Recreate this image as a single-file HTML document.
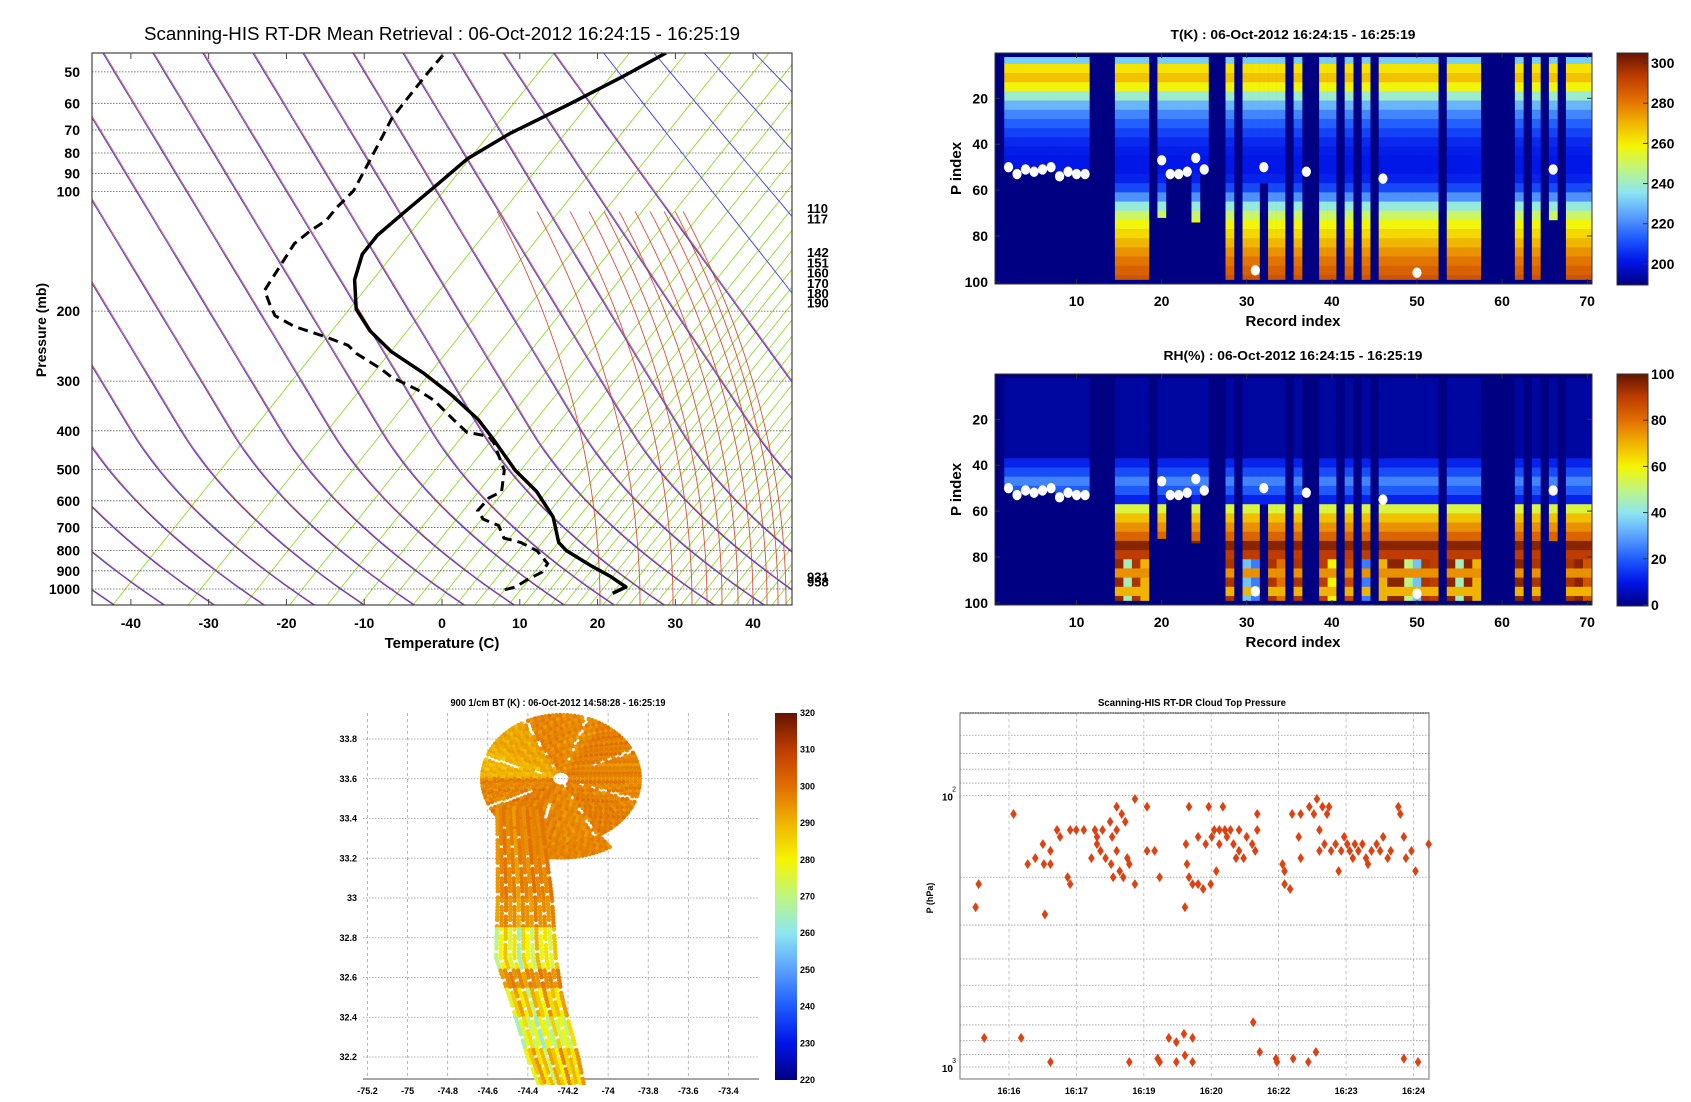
<!DOCTYPE html>
<html><head><meta charset="utf-8"><style>
html,body{margin:0;padding:0;background:#fff;}
svg{display:block;font-family:"Liberation Sans",Arial,sans-serif;}
</style></head><body>
<svg id="fig" xmlns="http://www.w3.org/2000/svg" width="1691" height="1102" viewBox="0 0 1691 1102">
<rect x="0" y="0" width="1691" height="1102" fill="#fff"/>
<defs>
<clipPath id="skewClip"><rect x="92" y="53" width="700" height="552"/></clipPath>
<clipPath id="mapClip"><rect x="363" y="705" width="396" height="380"/></clipPath>
<linearGradient id="jetV" x1="0" y1="1" x2="0" y2="0"></linearGradient>
</defs>
<g id="skewt">
<text x="442" y="40" text-anchor="middle" font-size="18" textLength="596" lengthAdjust="spacingAndGlyphs">Scanning-HIS RT-DR Mean Retrieval : 06-Oct-2012 16:24:15 - 16:25:19</text>
<g id="skewBg" clip-path="url(#skewClip)"></g>
<g id="skewGrid"></g>
<g id="skewProf" clip-path="url(#skewClip)"></g>
<rect x="92" y="53" width="700" height="552" fill="none" stroke="#444" stroke-width="1.2"/>
<g id="skewAxes" font-weight="bold" font-size="14"></g>
<text x="442" y="648" text-anchor="middle" font-size="15" font-weight="bold">Temperature (C)</text>
<text transform="translate(46,330) rotate(-90)" text-anchor="middle" font-size="14" font-weight="bold">Pressure (mb)</text>
</g>
<g id="heatT"></g>
<g id="heatRH"></g>
<g id="map"></g>
<g id="ctp"></g>
</svg>
<script>
// ---------------- DATA ----------------
const tempP = [44.8,51.3,60.2,71.5,82.8,94.8,112.5,128.8,143.8,166.7,197.8,223.8,252.9,285.9,323.6,374.6,423.4,502.7,568.6,658.8,763.6,801.6,873.0,928.9,988.6,1025];
const tempT = [-65.6,-67,-69,-71.5,-72.5,-71.9,-71.2,-70.6,-69.2,-65.7,-60.3,-54.8,-48.3,-40.5,-33.2,-25.2,-19.4,-11.5,-5.0,1.6,6.8,9.3,15.0,19.4,23.3,22.7];
const dewP = [45.4,50.0,59.4,65.6,74.1,83.8,99.5,109.8,118.2,125.6,135.3,152.9,177.3,193.1,205.3,218.3,232.3,243.8,255.9,279.0,293.1,315.5,335.5,374.6,403.4,413.0,428.6,502.7,568.6,590.2,635.3,667.3,692.4,744.7,763.6,801.6,863.0,905.8,952.2,988.6,1012];
const dewT = [-93.9,-92.8,-90.6,-89.3,-87.0,-84.7,-81.5,-80.7,-79.8,-80.0,-79.8,-77.8,-75.4,-72.1,-69.6,-65.3,-59.3,-55.0,-52.4,-46.7,-43.8,-38.2,-34.2,-28.4,-24.4,-20.9,-19.1,-12.9,-9.5,-10.0,-9.2,-7.0,-3.9,-1.0,1.9,5.5,9.1,9.9,9.3,9.1,7.7];
const pTicks = [50,60,70,80,90,100,200,300,400,500,600,700,800,900,1000];
const tTicks = [-40,-30,-20,-10,0,10,20,30,40];
const levelLabels = [110,117,142,151,160,170,180,190,931,958];

const colBottom = [0,50,53,51,52,51,50,54,52,53,53,0,0,0,98,98,98,98,0,71,53,53,52,73,51,0,0,98,0,98,98,56,98,98,0,98,0,0,98,98,0,98,0,98,0,98,98,98,98,98,98,98,0,98,98,98,98,0,0,0,0,98,0,98,0,72,0,98,98,98];
const tProfile = [232,262,268,258,240,228,220,214,209,205,203,202,202,204,210,222,238,250,258,264,270,276,281,285,288];
const rhProfile = [3,3,3,3,3,3,3,3,3,12,18,26,20,12,55,68,75,82,96,90,60,75,92,70,45];
const rhLow = [0,0,0,0,0,0,0,0,0,0,0,0,0,0,95,45,92,70,0,0,0,0,0,0,0,0,0,92,0,35,25,0,92,80,0,92,0,0,90,60,0,88,0,25,0,70,96,96,50,35,92,90,0,96,45,96,70,0,0,0,0,96,0,92,0,0,0,92,96,85];
const cloudRec = [2,3,4,5,6,7,8,9,10,11,20,21,22,23,24,25,31,32,37,46,50,66];
const cloudIdx = [50,53,51,52,51,50,54,52,53,53,47,53,53,52,46,51,95,50,52,55,96,51];
const recTicks = [10,20,30,40,50,60,70];
const pIdxTicks = [20,40,60,80,100];
const tCbTicks = [200,220,240,260,280,300];
const rhCbTicks = [0,20,40,60,80,100];

const stripLat = [33.45,33.0,32.7,32.5,32.2,32.05];
const stripLon = [-74.445,-74.415,-74.41,-74.36,-74.275,-74.23];
const stripWidth = [0.23,0.29,0.32,0.28,0.27,0.24];
const btBandTop = [33.45,33.0,32.85,32.65,32.55,32.4,32.25];
const btBandVal = [297,295,280,296,286,276,287];
const crossBT = [-4,0,3,-2,1,-6,2,0,-3,4,-1,1,-2,3];
const circleSectorBT = [297,298,296,297,292,290,297,298,297,296,298,297];
const lonTicks = [-75.2,-75,-74.8,-74.6,-74.4,-74.2,-74,-73.8,-73.6,-73.4];
const latTicks = [32.2,32.4,32.6,32.8,33,33.2,33.4,33.6,33.8];
const btCbTicks = [220,230,240,250,260,270,280,290,300,310,320];

const ctpTime = [15.34,15.40,16.09,16.37,16.52,16.67,16.69,16.71,16.82,16.82,16.95,17.01,17.16,17.21,17.21,17.33,17.48,17.63,17.70,17.74,17.74,17.81,17.85,17.91,18.00,18.02,18.04,18.06,18.13,18.13,18.13,18.19,18.23,18.26,18.30,18.34,18.38,18.49,18.49,18.73,18.73,18.88,18.98,19.48,19.50,19.52,19.56,19.56,19.63,19.74,19.74,19.84,19.89,19.95,19.99,20.01,20.06,20.10,20.16,20.16,20.23,20.27,20.31,20.38,20.44,20.49,20.55,20.55,20.64,20.70,20.81,20.87,20.91,20.91,21.41,21.45,21.45,21.56,21.60,21.73,21.77,21.77,21.94,22.03,22.09,22.14,22.14,22.20,22.24,22.29,22.33,22.37,22.46,22.52,22.57,22.63,22.69,22.74,22.80,22.84,22.91,22.99,23.06,23.10,23.17,23.27,23.34,23.40,23.49,23.55,23.70,23.74,23.81,23.85,23.96,24.04,24.30,
15.51,16.24,16.82,18.38,18.94,18.98,19.16,19.31,19.31,19.46,19.48,19.63,19.63,20.83,20.96,21.28,21.30,21.62,21.92,22.07,23.81,24.09];
const ctpPres = [258,212,117,179,170,151,179,274,160,179,134,142,200,212,134,134,134,170,134,142,151,160,134,170,125,179,142,200,110,134,160,190,117,200,125,170,179,103,212,110,160,160,200,258,151,179,110,200,212,212,142,221,151,110,212,142,134,190,134,151,110,134,142,134,151,170,134,160,170,142,151,160,117,134,179,190,212,221,117,142,117,170,110,117,103,134,160,110,151,117,110,160,151,190,160,142,151,160,170,151,160,151,170,179,160,151,160,142,170,160,110,117,142,170,160,190,151,
781,781,958,958,931,958,781,810,958,755,906,781,958,684,881,931,958,931,958,881,931,958];
const ctpTickTimes = [16,17.333,18.667,20,21.333,22.667,24];
const ctpTickLabels = ["16:16","16:17","16:19","16:20","16:22","16:23","16:24"];
const ctpGridP = [50,60,70,80,90,100,200,300,400,500,600,700,800,900,1000];

// ---------------- HELPERS ----------------
const NS="http://www.w3.org/2000/svg";
function mk(tag,attrs,parent){const e=document.createElementNS(NS,tag);for(const k in attrs)e.setAttribute(k,attrs[k]);if(parent)parent.appendChild(e);return e;}
function cl(v){return Math.max(0,Math.min(1,v));}
const CM=[[0,0,0,130],[0.1,0,20,230],[0.2,30,90,255],[0.3,90,160,255],[0.4,140,230,240],[0.5,190,245,130],[0.6,245,245,0],[0.7,240,180,0],[0.8,225,110,0],[0.9,190,60,0],[1,100,20,0]];
function jet(t){t=cl(t);for(let i=0;i<CM.length-1;i++){const a=CM[i],b=CM[i+1];if(t<=b[0]){const f=(t-a[0])/(b[0]-a[0]);return `rgb(${Math.round(a[1]+(b[1]-a[1])*f)},${Math.round(a[2]+(b[2]-a[2])*f)},${Math.round(a[3]+(b[3]-a[3])*f)})`;}}return 'rgb(100,20,0)';}
const grad=document.getElementById('jetV');
for(let i=0;i<=20;i++){mk('stop',{offset:(i/20).toFixed(4),'stop-color':jet(i/20)},grad);}

// ---------------- SKEW-T ----------------
const SK=70;
function uOf(p){return Math.log10(1000/p);}
function yP(p){return 589-397.5*uOf(p);}
function yU(u){return 589-397.5*u;}
function xDisp(t){return 92+(t+45)*7.778;}
function xT(T,p){return xDisp(T+SK*uOf(p));}
const bg=document.getElementById('skewBg');
{let x=112.6,j=0,s=113;while(x<800){
  const l=mk('line',{x1:x,y1:605,x2:x+0.8*552,y2:53,stroke:'#8fdc2a','stroke-width':0.9},bg);
  
  
  j++;s=Math.max(13,113/(1+0.5*j));x+=s;}}
function curve(fn,color,w,name,umax){umax=umax||1.38;let d='';const n=60;for(let i=0;i<=n;i++){const u=-0.06+i*((umax+0.06)/n);d+=(i?'L':'M')+fn(u).toFixed(1)+','+yU(u).toFixed(1);}
  const p=mk('path',{d:d,fill:'none',stroke:color,'stroke-width':w},bg);
  
  }
const blueF=(xt,u)=>{const m=1+Math.max(0,xt-450)/500;return xt+240*(1.36-u)*m+400*Math.pow(Math.max(0,0.4-u),2);};
for(let xt=-450;xt<=560;xt+=50){curve(u=>blueF(xt,u)+1.2,'#d9503a',0.9,'dry-adiabat');}
[600,640,673,692,707,722,738,753,767,778,786].forEach(xb=>curve(u=>xb-105*Math.pow(u+0.04,2),'#d9503a',0.9,'dry-adiabat',0.95));
for(let xt=-450;xt<=1450;xt+=50){curve(u=>blueF(xt,u),'#3a3af0',0.9,'moist-adiabat');}
const grid=document.getElementById('skewGrid'),axes=document.getElementById('skewAxes');
pTicks.forEach(p=>{const y=yP(p);
  const l=mk('line',{x1:92,x2:792,y1:y,y2:y,stroke:'#555','stroke-width':0.8,'stroke-dasharray':'1.5,1.5'},grid);
  
  
  const t=mk('text',{x:80,y:y+5,'text-anchor':'end'},axes);t.textContent=p;
  
  });
tTicks.forEach(T=>{const x=xDisp(T);
  mk('line',{x1:x,x2:x,y1:605,y2:599,stroke:'#444'},axes);mk('line',{x1:x,x2:x,y1:53,y2:59,stroke:'#444'},axes);
  const t=mk('text',{x:x,y:628,'text-anchor':'middle'},axes);t.textContent=T;
  
  });
levelLabels.forEach(p=>{const t=mk('text',{x:807,y:yP(p)+5,'font-size':13},axes);t.textContent=p;
  
  });
const prof=document.getElementById('skewProf');
{let d='';tempP.forEach((p,i)=>{d+=(i?'L':'M')+xT(tempT[i],p).toFixed(1)+','+yP(p).toFixed(1);});
 const pa=mk('path',{d:d,fill:'none',stroke:'#000','stroke-width':3.5,'stroke-linejoin':'round'},prof);
 
 }
{let d='';dewP.forEach((p,i)=>{d+=(i?'L':'M')+xT(dewT[i],p).toFixed(1)+','+yP(p).toFixed(1);});
 const pa=mk('path',{d:d,fill:'none',stroke:'#000','stroke-width':3,'stroke-dasharray':'10,6'},prof);
 
 }

// ---------------- HEATMAPS ----------------
function heatmap(gid,top,title,titleW,vals,cmin,cmax,cbTicks){
  const g=document.getElementById(gid);
  const X0=995,W=597,Y0=top,H=231;
  const xR=r=>1000+(r-1)*8.51, yI=i=>Y0+0.6+(i-0.5)*2.294;
  const ti=mk('text',{x:1293,y:Y0-14,'text-anchor':'middle','font-size':13,'font-weight':'bold',textLength:titleW,lengthAdjust:'spacingAndGlyphs'},g);ti.textContent=title;
  
  
  const bgR=mk('rect',{x:X0,y:Y0,width:W,height:H,fill:jet(0)},g);
  
  
  for(let c=1;c<=70;c++){const bot=colBottom[c-1];if(!bot)continue;
    for(let b=0;b<25;b++){const r0=Math.max(2,4*b+1),r1=Math.min(bot,4*b+4);if(r1<r0)continue;
      const v=vals(b,c);
      const cell=mk('rect',{x:(xR(c)-4.26).toFixed(2),y:yI(r0).toFixed(2),width:8.8,height:((r1-r0+1)*2.294+0.3).toFixed(2),fill:jet((v-cmin)/(cmax-cmin))},g);
      
      }}
  cloudRec.forEach((r,i)=>{const e=mk('ellipse',{cx:xR(r),cy:yI(cloudIdx[i]),rx:4.6,ry:5.2,fill:'#fff'},g);
    
    });
  mk('rect',{x:X0,y:Y0,width:W,height:H,fill:'none',stroke:'#333','stroke-width':1},g);
  recTicks.forEach(r=>{const x=xR(r);mk('line',{x1:x,x2:x,y1:Y0+H,y2:Y0+H-5,stroke:'#333'},g);mk('line',{x1:x,x2:x,y1:Y0,y2:Y0+5,stroke:'#333'},g);
    const t=mk('text',{x:x,y:Y0+H+22,'text-anchor':'middle','font-size':14,'font-weight':'bold'},g);t.textContent=r;
    
    });
  pIdxTicks.forEach(p=>{const y=yI(p);mk('line',{x1:X0,x2:X0+5,y1:y,y2:y,stroke:'#333'},g);mk('line',{x1:X0+W,x2:X0+W-5,y1:y,y2:y,stroke:'#333'},g);
    const t=mk('text',{x:988,y:y+5,'text-anchor':'end','font-size':14,'font-weight':'bold'},g);t.textContent=p;
    
    });
  const xl=mk('text',{x:1293,y:Y0+H+42,'text-anchor':'middle','font-size':15,'font-weight':'bold'},g);xl.textContent='Record index';
  
  
  const yl=mk('text',{transform:`translate(961,${Y0+H/2}) rotate(-90)`,'text-anchor':'middle','font-size':15,'font-weight':'bold'},g);yl.textContent='P index';
  
  
  const cb=mk('rect',{x:1617,y:Y0,width:31,height:H+1,fill:'url(#jetV)',stroke:'#333','stroke-width':1},g);
  
  
  cbTicks.forEach(v=>{const y=Y0+H-(v-cmin)/(cmax-cmin)*H;mk('line',{x1:1643,x2:1648,y1:y,y2:y,stroke:'#333'},g);
    const t=mk('text',{x:1651,y:y+5,'font-size':14,'font-weight':'bold'},g);t.textContent=v;
    
    });
}
heatmap('heatT',53,'T(K) : 06-Oct-2012 16:24:15 - 16:25:19',245,(b,c)=>tProfile[b],190,305,tCbTicks);
heatmap('heatRH',374,'RH(%) : 06-Oct-2012 16:24:15 - 16:25:19',259,(b,c)=>(b>=19&&b%2===0)?rhLow[c-1]:rhProfile[b],0,100,rhCbTicks);

// ---------------- MAP ----------------
(function(){
const g=document.getElementById('map');
const xL=lon=>367.5+(lon+75.2)*200.5, yL=lat=>1057-(lat-32.2)*198.75;
const ti=mk('text',{x:558,y:706,'text-anchor':'middle','font-size':10,'font-weight':'bold',textLength:215,lengthAdjust:'spacingAndGlyphs'},g);ti.textContent='900 1/cm BT (K) : 06-Oct-2012 14:58:28 - 16:25:19';


lonTicks.forEach(v=>{const x=xL(v);mk('line',{x1:x,x2:x,y1:713,y2:1079,stroke:'#999','stroke-width':0.7,'stroke-dasharray':'3,3'},g);
  const t=mk('text',{x:x,y:1094,'text-anchor':'middle','font-size':9,'font-weight':'bold'},g);t.textContent=v;
  
  });
latTicks.forEach(v=>{const y=yL(v);mk('line',{x1:363,x2:759,y1:y,y2:y,stroke:'#999','stroke-width':0.7,'stroke-dasharray':'1.5,1.5'},g);
  const t=mk('text',{x:357,y:y+3,'text-anchor':'end','font-size':9,'font-weight':'bold'},g);t.textContent=v;
  
  });
mk('line',{x1:363,x2:759,y1:1079,y2:1079,stroke:'#888','stroke-width':1.5},g);
const dots=mk('g',{'clip-path':'url(#mapClip)'},g);
function dot(lon,lat,bt){const c=mk('circle',{cx:xL(lon).toFixed(1),cy:yL(lat).toFixed(1),r:2.3,fill:jet((bt-220)/100)},dots);
  
  }
const cLon=-74.235,cLat=33.60,RL=0.405,RA=0.33;
for(let rf=0.12;rf<=1.0;rf+=0.05){const n=Math.round(2*Math.PI*rf*80/3.6);
  for(let k=0;k<n;k++){const a=k/n*360;const gap=((a+20)%45);if(gap<2.5)continue;
    const s=Math.floor(a/30);const bt=circleSectorBT[s]+crossBT[k%14]*0.6;
    dot(cLon+rf*RL*Math.cos(a*Math.PI/180),cLat+rf*RA*Math.sin(a*Math.PI/180),bt);}}
for(let rf=1.0;rf<=1.25;rf+=0.05){const n=Math.round(2*Math.PI*rf*80/3.6);
  for(let k=0;k<n;k++){const a=k/n*360;if(a<245||a>300)continue;
    dot(cLon+rf*RL*Math.cos(a*Math.PI/180),cLat+rf*RA*Math.sin(a*Math.PI/180),297+crossBT[k%14]*0.5);}}
function interp(arr,lat){for(let i=0;i<stripLat.length-1;i++){if(lat<=stripLat[i]&&lat>=stripLat[i+1]){const f=(stripLat[i]-lat)/(stripLat[i]-stripLat[i+1]);return arr[i]+(arr[i+1]-arr[i])*f;}}return arr[arr.length-1];}
let i=0;
for(let lat=33.45;lat>=32.05;lat-=0.016,i++){const cLo=interp(stripLon,lat),w=interp(stripWidth,lat);
  let band=0;for(let b=0;b<btBandTop.length;b++){if(lat<=btBandTop[b])band=b;}
  for(let j=0;j<14;j++){if((i*5+j*3)%9===0)continue;
    dot(cLo-w/2+w*(j+0.5)/14,lat,btBandVal[band]+crossBT[j]*(btBandVal[band]<290?2.5:0.7));}}
const cb=mk('rect',{x:775,y:713,width:22,height:367,fill:'url(#jetV)'},g);


btCbTicks.forEach(v=>{const y=1080-(v-220)/100*367;
  const t=mk('text',{x:800,y:y+3,'font-size':9,'font-weight':'bold'},g);t.textContent=v;
  
  });
})();

// ---------------- CLOUD TOP PRESSURE ----------------
(function(){
const g=document.getElementById('ctp');
const xt=t=>1009+(t-16)*50.56, yp=p=>795.5+271.5*Math.log10(p/100);
const ti=mk('text',{x:1192,y:706,'text-anchor':'middle','font-size':10,'font-weight':'bold',textLength:188,lengthAdjust:'spacingAndGlyphs'},g);ti.textContent='Scanning-HIS RT-DR Cloud Top Pressure';


ctpGridP.forEach(p=>{const y=yp(p);const l=mk('line',{x1:960,x2:1429,y1:y,y2:y,stroke:'#999','stroke-width':0.8,'stroke-dasharray':'1.5,1.5'},g);
  
  });
ctpTickTimes.forEach((t,i)=>{const x=xt(t);mk('line',{x1:x,x2:x,y1:713,y2:1079,stroke:'#aaa','stroke-width':0.7,'stroke-dasharray':'3,3'},g);
  const tx=mk('text',{x:x,y:1094,'text-anchor':'middle','font-size':9,'font-weight':'bold'},g);tx.textContent=ctpTickLabels[i];
  
  });
mk('rect',{x:960,y:713,width:469,height:366,fill:'none',stroke:'#888','stroke-width':1.2},g);
mk('line',{x1:960,x2:1429,y1:713,y2:713,stroke:'#888','stroke-width':2,'stroke-dasharray':'1.5,1'},g);
[[100,'2'],[1000,'3']].forEach(([p,e])=>{const y=yp(p);
  const t=mk('text',{x:953,y:y+5,'text-anchor':'end','font-size':10,'font-weight':'bold'},g);t.textContent='10';
  
  
  const s=mk('text',{x:956,y:y-4,'text-anchor':'end','font-size':7},g);s.textContent=e;
  
  });
const yl=mk('text',{transform:'translate(933,898) rotate(-90)','text-anchor':'middle','font-size':9,'font-weight':'bold'},g);yl.textContent='P (hPa)';


ctpTime.forEach((t,i)=>{const x=xt(t),y=yp(ctpPres[i]);
  const d=mk('polygon',{points:`${x},${y-5} ${x+3.3},${y} ${x},${y+5} ${x-3.3},${y}`,fill:'#dc4212'},g);
  
  });
})();
</script>
</body></html>
